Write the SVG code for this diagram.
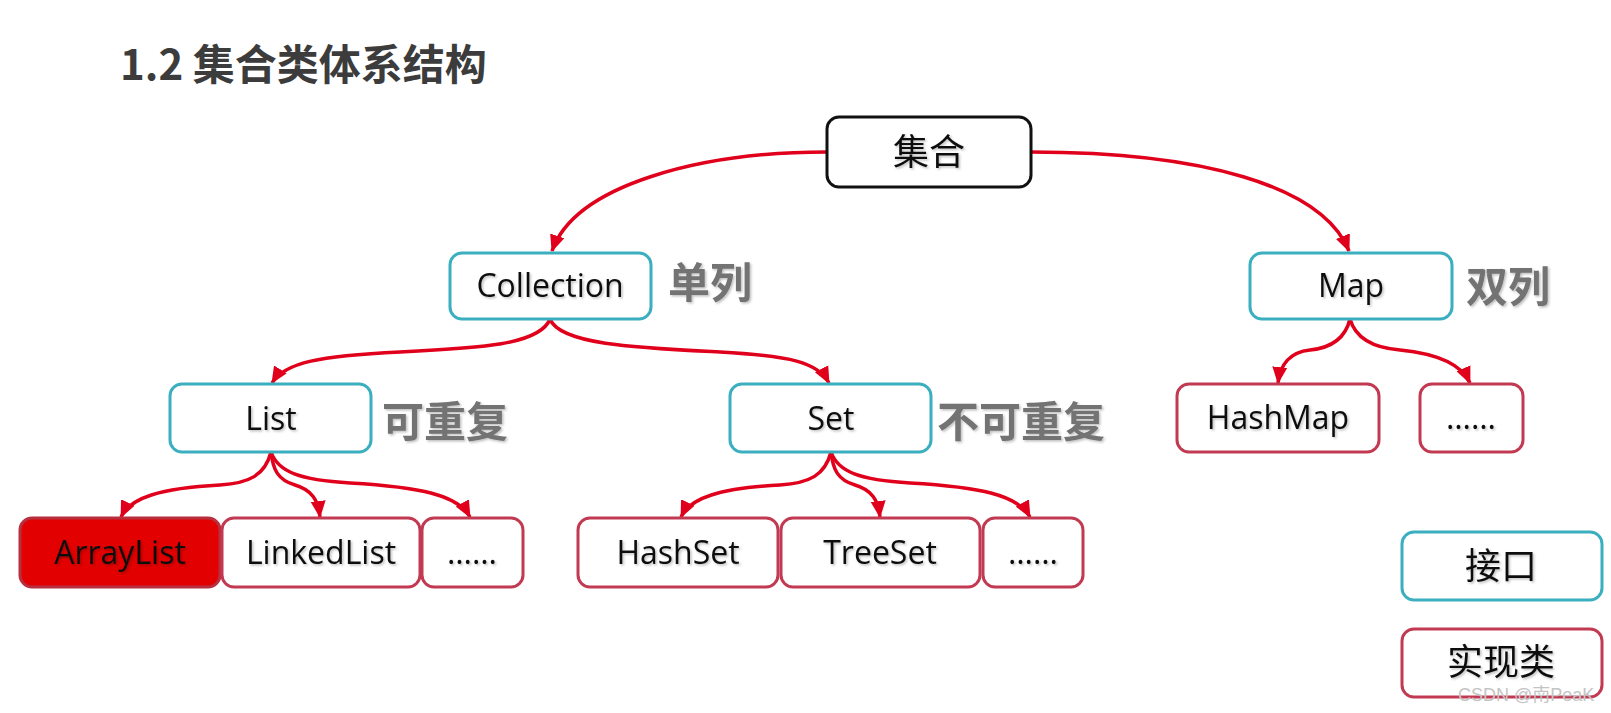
<svg xmlns="http://www.w3.org/2000/svg" width="1611" height="713" viewBox="0 0 1611 713">
<style>
.bg{fill:#ffffff}
.title{font-family:"Noto Sans CJK SC","Noto Sans",sans-serif;font-weight:bold;font-size:42px;fill:#3c3c3c}
.box{fill:#ffffff;stroke-width:3}
.root{stroke:#111111}
.ifc{stroke:#3bafc0}
.impl{stroke:#c13a52}
.hl{fill:#e20000;stroke:#b8303f;stroke-width:3}
.t{font-family:"Open Sans","Liberation Sans",sans-serif;font-size:32px;fill:#111111;text-anchor:middle;filter:url(#sh)}
.cn{font-family:"Noto Sans CJK SC",sans-serif;font-size:36px;fill:#111111;text-anchor:middle;filter:url(#sh)}
.lbl{font-family:"Noto Sans CJK SC",sans-serif;font-weight:bold;font-size:42px;fill:#737373;filter:url(#sh)}
.wm{font-family:"Liberation Sans","Noto Sans CJK SC",sans-serif;font-size:18px;fill:#c4c4c4}
.c{fill:none;stroke:#e0001b;stroke-width:3.5;marker-end:url(#ah)}
</style>
<defs>
<filter id="sh" x="-10%" y="-20%" width="120%" height="140%">
<feDropShadow dx="1.5" dy="1.5" stdDeviation="1" flood-color="#000000" flood-opacity="0.25"/>
</filter>
<marker id="ah" markerUnits="userSpaceOnUse" markerWidth="18" markerHeight="18" viewBox="0 0 18 18" refX="16" refY="9" orient="auto">
<path d="M0,1.5 L17,9 L0,16.5 Z" fill="#e0001b"/>
</marker>
</defs>
<rect class="bg" x="0" y="0" width="1611" height="713"/>
<text class="title" x="120" y="80">1.2 集合类体系结构</text>

<g id="connectors">
<path class="c" d="M827 152 C700 152, 575 185, 552 251"/>
<path class="c" d="M1031 152 C1200 152, 1322 185, 1349 251"/>
<path class="c" d="M550 319 C540 345, 480 348, 400 352 C320 356, 285 362, 272 383"/>
<path class="c" d="M550 319 C560 345, 640 348, 720 352 C790 356, 818 362, 829 383"/>
<path class="c" d="M1350 319 C1345 340, 1330 348, 1310 350 C1290 352, 1280 365, 1278 383"/>
<path class="c" d="M1350 319 C1356 340, 1375 348, 1400 350 C1440 354, 1462 365, 1470 383"/>
<path class="c" d="M271 452 C265 475, 250 483, 220 485 C160 488, 130 498, 121 517"/>
<path class="c" d="M271 452 C273 470, 278 480, 295 485 C312 490, 318 500, 320 517"/>
<path class="c" d="M271 452 C278 472, 300 480, 350 483 C420 487, 458 495, 470 517"/>
<path class="c" d="M831 452 C825 475, 810 483, 780 485 C720 488, 690 498, 681 517"/>
<path class="c" d="M831 452 C833 470, 838 480, 855 485 C872 490, 878 500, 880 517"/>
<path class="c" d="M831 452 C838 472, 860 480, 910 483 C980 487, 1018 495, 1030 517"/>
</g>

<g id="n-jihe"><rect class="box root" x="827" y="117" width="204" height="70" rx="12"/><text class="cn" x="929" y="165">集合</text></g>
<g id="n-collection"><rect class="box ifc" x="450" y="253" width="201" height="66" rx="12"/><text class="t" x="550" y="297">Collection</text><text class="lbl" x="668" y="298">单列</text></g>
<g id="n-map"><rect class="box ifc" x="1250" y="253" width="202" height="66" rx="12"/><text class="t" x="1351" y="297">Map</text><text class="lbl" x="1466" y="302">双列</text></g>
<g id="n-list"><rect class="box ifc" x="170" y="384" width="201" height="68" rx="12"/><text class="t" x="271" y="430">List</text><text class="lbl" x="382" y="437">可重复</text></g>
<g id="n-set"><rect class="box ifc" x="730" y="384" width="201" height="68" rx="12"/><text class="t" x="831" y="430">Set</text><text class="lbl" x="937" y="437">不可重复</text></g>
<g id="n-hashmap"><rect class="box impl" x="1177" y="384" width="202" height="68" rx="12"/><text class="t" x="1278" y="429">HashMap</text></g>
<g id="n-mapmore"><rect class="box impl" x="1420" y="384" width="103" height="68" rx="12"/><text class="t" x="1471" y="429">……</text></g>
<g id="n-arraylist"><rect class="hl" x="20" y="518" width="200" height="69" rx="12"/><text class="t" x="120" y="564">ArrayList</text></g>
<g id="n-linkedlist"><rect class="box impl" x="222" y="518" width="198" height="69" rx="12"/><text class="t" x="321" y="564">LinkedList</text></g>
<g id="n-listmore"><rect class="box impl" x="422" y="518" width="101" height="69" rx="12"/><text class="t" x="472" y="564">……</text></g>
<g id="n-hashset"><rect class="box impl" x="578" y="518" width="200" height="69" rx="12"/><text class="t" x="678" y="564">HashSet</text></g>
<g id="n-treeset"><rect class="box impl" x="781" y="518" width="199" height="69" rx="12"/><text class="t" x="880" y="564">TreeSet</text></g>
<g id="n-setmore"><rect class="box impl" x="983" y="518" width="100" height="69" rx="12"/><text class="t" x="1033" y="564">……</text></g>
<g id="legend-interface"><rect class="box ifc" x="1402" y="532" width="200" height="68" rx="12"/><text class="cn" x="1501" y="579">接口</text></g>
<g id="legend-impl"><rect class="box impl" x="1402" y="629" width="200" height="68" rx="12"/><text class="cn" x="1501" y="675">实现类</text></g>
<text class="wm" x="1458" y="701">CSDN @南PeaK</text>
</svg>
